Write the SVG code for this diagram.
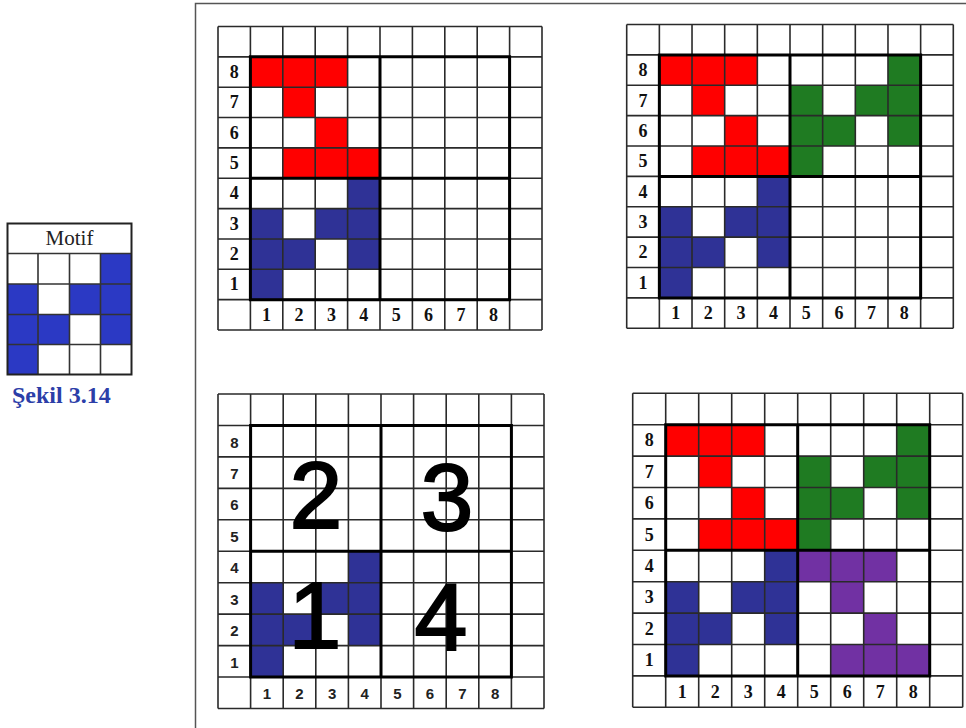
<svg xmlns="http://www.w3.org/2000/svg" xmlns:xlink="http://www.w3.org/1999/xlink" width="966" height="728" viewBox="0 0 966 728">
<style>
.thin{fill:none;stroke:#2a2a2a;stroke-width:1.6}
.thick{fill:none;stroke:#000;stroke-width:3}
.r{fill:#ff0000}.b{fill:#2f3296}.g{fill:#1f7b22}.p{fill:#7131a3}
.lab{font-family:"Liberation Serif","Times New Roman",serif;font-weight:bold;font-size:18px;fill:#111;text-anchor:middle}
.labs{font-family:"Liberation Sans Narrow","Liberation Sans",Arial,sans-serif;font-weight:bold;font-size:15px;fill:#222;text-anchor:middle}
.big{font-family:"Liberation Sans",Arial,sans-serif;font-size:95px;fill:#000;stroke:#000;stroke-width:2;text-anchor:middle}
</style>
<defs>
<g id="lines">
<path class="thin" vector-effect="non-scaling-stroke" d="M0 0H10M0 1H10M0 2H10M0 3H10M0 4H10M0 5H10M0 6H10M0 7H10M0 8H10M0 9H10M0 10H10M0 0V10M1 0V10M2 0V10M3 0V10M4 0V10M5 0V10M6 0V10M7 0V10M8 0V10M9 0V10M10 0V10"/>
<path class="thick" vector-effect="non-scaling-stroke" d="M1 1H9V9H1ZM5 1V9M1 5H9"/>
</g>
<g id="blue">
<rect class="b" x="4" y="5" width="1" height="1"/><rect class="b" x="1" y="6" width="1" height="1"/><rect class="b" x="3" y="6" width="2" height="1"/><rect class="b" x="1" y="7" width="2" height="1"/><rect class="b" x="4" y="7" width="1" height="1"/><rect class="b" x="1" y="8" width="1" height="1"/>
</g>
<g id="red">
<rect class="r" x="1" y="1" width="3" height="1"/><rect class="r" x="2" y="2" width="1" height="1"/><rect class="r" x="3" y="3" width="1" height="1"/><rect class="r" x="2" y="4" width="3" height="1"/>
</g>
<g id="green">
<rect class="g" x="8" y="1" width="1" height="1"/><rect class="g" x="5" y="2" width="1" height="1"/><rect class="g" x="7" y="2" width="2" height="1"/><rect class="g" x="5" y="3" width="2" height="1"/><rect class="g" x="8" y="3" width="1" height="1"/><rect class="g" x="5" y="4" width="1" height="1"/>
</g>
<g id="purple">
<rect class="p" x="5" y="5" width="3" height="1"/><rect class="p" x="6" y="6" width="1" height="1"/><rect class="p" x="7" y="7" width="1" height="1"/><rect class="p" x="6" y="8" width="3" height="1"/>
</g>
</defs>
<rect width="966" height="728" fill="#fff"/>
<path d="M195.5 728V3.5H966" fill="none" stroke="#555" stroke-width="1.5"/>

<g id="motif">
<rect x="7.5" y="223.5" width="124" height="151" fill="#fff"/>
<rect x="100.5" y="253.5" width="31" height="30.5" fill="#2b39c4"/>
<rect x="7.5" y="284" width="30.5" height="30.5" fill="#2b39c4"/>
<rect x="69.5" y="284" width="62" height="30.5" fill="#2b39c4"/>
<rect x="7.5" y="314.5" width="62" height="30" fill="#2b39c4"/>
<rect x="100.5" y="314.5" width="31" height="30" fill="#2b39c4"/>
<rect x="7.5" y="344.5" width="30.5" height="30" fill="#2b39c4"/>
<path d="M7.5 253.5H131.5M7.5 284H131.5M7.5 314.5H131.5M7.5 344.5H131.5M38 253.5V374.5M69.5 253.5V374.5M100.5 253.5V374.5" fill="none" stroke="#333" stroke-width="1.6"/>
<rect x="7.5" y="223.5" width="124" height="151" fill="none" stroke="#222" stroke-width="2"/>
<text x="69.5" y="245" font-family="Liberation Serif,Times New Roman,serif" font-size="21" fill="#222" text-anchor="middle">Motif</text>
<text x="12" y="403" font-family="Liberation Serif,Times New Roman,serif" font-size="24" font-weight="bold" fill="#2c3ea8">Şekil 3.14</text>
</g>

<g id="grid-top-left">
<g transform="translate(218,26.5) scale(32.4,30.35)">
<use href="#blue"/><use href="#red"/><use href="#lines"/>
</g>
<g class="lab">
<text x="234.2" y="78">8</text><text x="234.2" y="108.2">7</text><text x="234.2" y="138.5">6</text><text x="234.2" y="168.9">5</text>
<text x="234.2" y="199.2">4</text><text x="234.2" y="229.6">3</text><text x="234.2" y="259.9">2</text><text x="234.2" y="290.3">1</text>
<text x="266.6" y="320.6">1</text><text x="299" y="320.6">2</text><text x="331.4" y="320.6">3</text><text x="363.8" y="320.6">4</text>
<text x="396.2" y="320.6">5</text><text x="428.6" y="320.6">6</text><text x="461" y="320.6">7</text><text x="493.4" y="320.6">8</text>
</g>
</g>

<g id="grid-top-right">
<g transform="translate(626.7,24.5) scale(32.66,30.38)">
<use href="#blue"/><use href="#red"/><use href="#green"/><use href="#lines"/>
</g>
<g class="lab">
<text x="643" y="76.1">8</text><text x="643" y="106.5">7</text><text x="643" y="136.9">6</text><text x="643" y="167.2">5</text>
<text x="643" y="197.6">4</text><text x="643" y="228">3</text><text x="643" y="258.4">2</text><text x="643" y="288.7">1</text>
<text x="675.7" y="319.1">1</text><text x="708.3" y="319.1">2</text><text x="741" y="319.1">3</text><text x="773.6" y="319.1">4</text>
<text x="806.3" y="319.1">5</text><text x="839" y="319.1">6</text><text x="871.6" y="319.1">7</text><text x="904.3" y="319.1">8</text>
</g>
</g>

<g id="grid-bottom-left">
<g transform="translate(218,394) scale(32.6,31.45)">
<use href="#blue"/><use href="#lines"/>
</g>
<g class="labs">
<text x="234.3" y="447.5">8</text><text x="234.3" y="478.9">7</text><text x="234.3" y="510.4">6</text><text x="234.3" y="541.8">5</text>
<text x="234.3" y="573.3">4</text><text x="234.3" y="604.7">3</text><text x="234.3" y="636.2">2</text><text x="234.3" y="667.6">1</text>
<text x="266.9" y="699">1</text><text x="299.5" y="699">2</text><text x="332.1" y="699">3</text><text x="364.7" y="699">4</text>
<text x="397.3" y="699">5</text><text x="429.9" y="699">6</text><text x="462.5" y="699">7</text><text x="495.1" y="699">8</text>
</g>
<g class="big">
<text x="316" y="528">2</text><text x="447" y="530">3</text><text x="315" y="648">1</text><text x="441" y="650">4</text>
</g>
</g>

<g id="grid-bottom-right">
<g transform="translate(632.7,393.3) scale(33,31.4)">
<use href="#blue"/><use href="#red"/><use href="#green"/><use href="#purple"/><use href="#lines"/>
</g>
<g class="lab">
<text x="649.2" y="446.4">8</text><text x="649.2" y="477.8">7</text><text x="649.2" y="509.2">6</text><text x="649.2" y="540.6">5</text>
<text x="649.2" y="572">4</text><text x="649.2" y="603.4">3</text><text x="649.2" y="634.8">2</text><text x="649.2" y="666.2">1</text>
<text x="682.2" y="697.6">1</text><text x="715.2" y="697.6">2</text><text x="748.2" y="697.6">3</text><text x="781.2" y="697.6">4</text>
<text x="814.2" y="697.6">5</text><text x="847.2" y="697.6">6</text><text x="880.2" y="697.6">7</text><text x="913.2" y="697.6">8</text>
</g>
</g>
</svg>
